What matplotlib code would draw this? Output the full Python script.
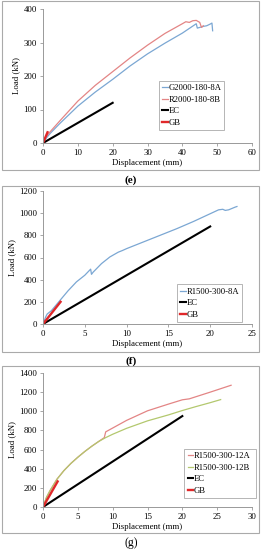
import matplotlib.pyplot as plt
from matplotlib.patches import Rectangle

plt.rcParams['font.family'] = ['Liberation Serif', 'DejaVu Serif']

# panel (e)
e_g_x = [0, 0.5, 1, 2, 5, 10, 15, 20, 25, 30, 35, 40, 42, 44, 44.3, 45, 46, 47, 48, 48.5, 48.7]
e_g_y = [0, 8, 15, 28, 60, 110, 152, 190, 230, 266, 298, 328, 342, 356, 343, 345, 348, 350, 355, 358, 335]
e_r_x = [0, 0.5, 1, 2, 5, 10, 15, 20, 25, 30, 35, 40, 41, 42, 43, 44, 45, 45.5, 46]
e_r_y = [0, 10, 20, 33, 68, 125, 172, 213, 254, 292, 327, 356, 362, 360, 365, 366, 360, 345, 350]
e_ec_x = [0, 20]
e_ec_y = [0, 120]
e_gb_x = [0, 1.3]
e_gb_y = [0, 32]

# panel (f)
f_a_x = [0, 0.3, 0.5, 1, 2, 3, 4, 5, 5.7, 5.8, 6, 7, 8, 9, 9.5, 10, 12, 14, 16, 18, 20, 21, 21.5, 21.8, 22.2, 23, 23.2]
f_a_y = [0, 60, 90, 120, 210, 300, 380, 440, 495, 448, 468, 545, 605, 648, 663, 680, 740, 800, 860, 925, 995, 1030, 1035, 1025, 1030, 1055, 1060]
f_ec_x = [0, 20]
f_ec_y = [0, 880]
f_gb_x = [0, 2.1]
f_gb_y = [0, 200]

# panel (g)
g_a_x = [0, 0.5, 1, 2, 3, 4, 5, 6, 7, 8, 8.8, 9, 10, 12, 15, 18, 20, 21, 24, 27]
g_a_y = [0, 100, 170, 290, 380, 455, 520, 580, 635, 685, 725, 785, 825, 905, 1005, 1075, 1120, 1130, 1200, 1272]
g_b_x = [0, 0.5, 1, 2, 3, 4, 5, 6, 7, 8, 9, 10, 12, 15, 18, 20, 22, 24, 25.5]
g_b_y = [0, 100, 170, 290, 380, 455, 520, 580, 635, 685, 725, 760, 822, 900, 962, 1008, 1050, 1090, 1122]
g_ec_x = [0, 20]
g_ec_y = [0, 950]
g_gb_x = [0, 2.1]
g_gb_y = [0, 267]

blue = '#7ba7d3'
pink = '#e38585'
green = '#b3c86e'
red = '#e0282a'

W, H = 262, 550
fig = plt.figure(figsize=(2.62, 5.5), dpi=100)

def px_axes(left, right, top, bottom):
    return fig.add_axes([left / W, 1 - bottom / H, (right - left) / W, (bottom - top) / H])

def style(ax, xmax, xstep, ymax, ystep):
    ax.set_xlim(0, xmax)
    ax.set_ylim(0, ymax)
    ax.set_xticks(range(0, xmax + 1, xstep))
    ax.set_yticks(range(0, ymax + 1, ystep))
    for s in ['top', 'right']:
        ax.spines[s].set_visible(False)
    for s in ['left', 'bottom']:
        ax.spines[s].set_color('#999999')
        ax.spines[s].set_linewidth(0.7)
    ax.tick_params(labelsize=6.3, length=2.5, width=0.6, color='#999999', pad=2)
    ax.set_xlabel('Displacement (mm)', fontsize=6.3, labelpad=1)
    ax.set_ylabel('Load (kN)', fontsize=6.3, labelpad=2)
    ax.patch.set_alpha(0)

def leg(ax, x0, y0, w, h):
    l = ax.legend(loc='lower left', bbox_to_anchor=(x0, y0, w, h), mode='expand',
                  fontsize=6.2, handlelength=0.6, handletextpad=0.15, borderpad=0.4,
                  borderaxespad=0, labelspacing=0.4, fancybox=False, framealpha=1,
                  edgecolor='#aaaaaa')
    l.get_frame().set_linewidth(0.6)

# frames around each panel
for top, bottom in [(1, 170), (186, 352), (366, 533)]:
    fig.patches.append(Rectangle((2 / W, 1 - bottom / H), 257 / W, (bottom - top) / H,
                                 transform=fig.transFigure, fill=False,
                                 edgecolor='#aaaaaa', linewidth=0.8))

ax = px_axes(43, 252, 9, 143)
ax.plot(e_g_x, e_g_y, color=blue, lw=0.9, label='G2000-180-8A')
ax.plot(e_r_x, e_r_y, color=pink, lw=0.9, label='R2000-180-8B')
ax.plot(e_ec_x, e_ec_y, color='black', lw=1.5, label='EC')
ax.plot(e_gb_x, e_gb_y, color=red, lw=1.7, label='GB')
style(ax, 60, 10, 400, 100)
leg(ax, 0.555, 0.097, 0.31, 0.35)
fig.text(131 / W, 1 - 180 / H, '(e)', ha='center', va='center', fontsize=8, fontweight='bold')

ax = px_axes(43, 252, 191, 324)
ax.plot(f_a_x, f_a_y, color=blue, lw=0.9, label='R1500-300-8A')
ax.plot(f_ec_x, f_ec_y, color='black', lw=1.5, label='EC')
ax.plot(f_gb_x, f_gb_y, color=red, lw=1.7, label='GB')
style(ax, 25, 5, 1200, 200)
leg(ax, 0.641, 0.015, 0.31, 0.255)
fig.text(131 / W, 1 - 361 / H, '(f)', ha='center', va='center', fontsize=8, fontweight='bold')

ax = px_axes(43, 252, 373, 507)
ax.plot(g_a_x, g_a_y, color=pink, lw=0.9, label='R1500-300-12A')
ax.plot(g_b_x, g_b_y, color=green, lw=0.9, label='R1500-300-12B')
ax.plot(g_ec_x, g_ec_y, color='black', lw=1.5, label='EC')
ax.plot(g_gb_x, g_gb_y, color=red, lw=1.7, label='GB')
style(ax, 30, 5, 1400, 200)
leg(ax, 0.675, 0.067, 0.345, 0.343)
fig.text(131 / W, 1 - 543 / H, '(g)', ha='center', va='center', fontsize=8.5)

fig.savefig('out.png', dpi=100)
